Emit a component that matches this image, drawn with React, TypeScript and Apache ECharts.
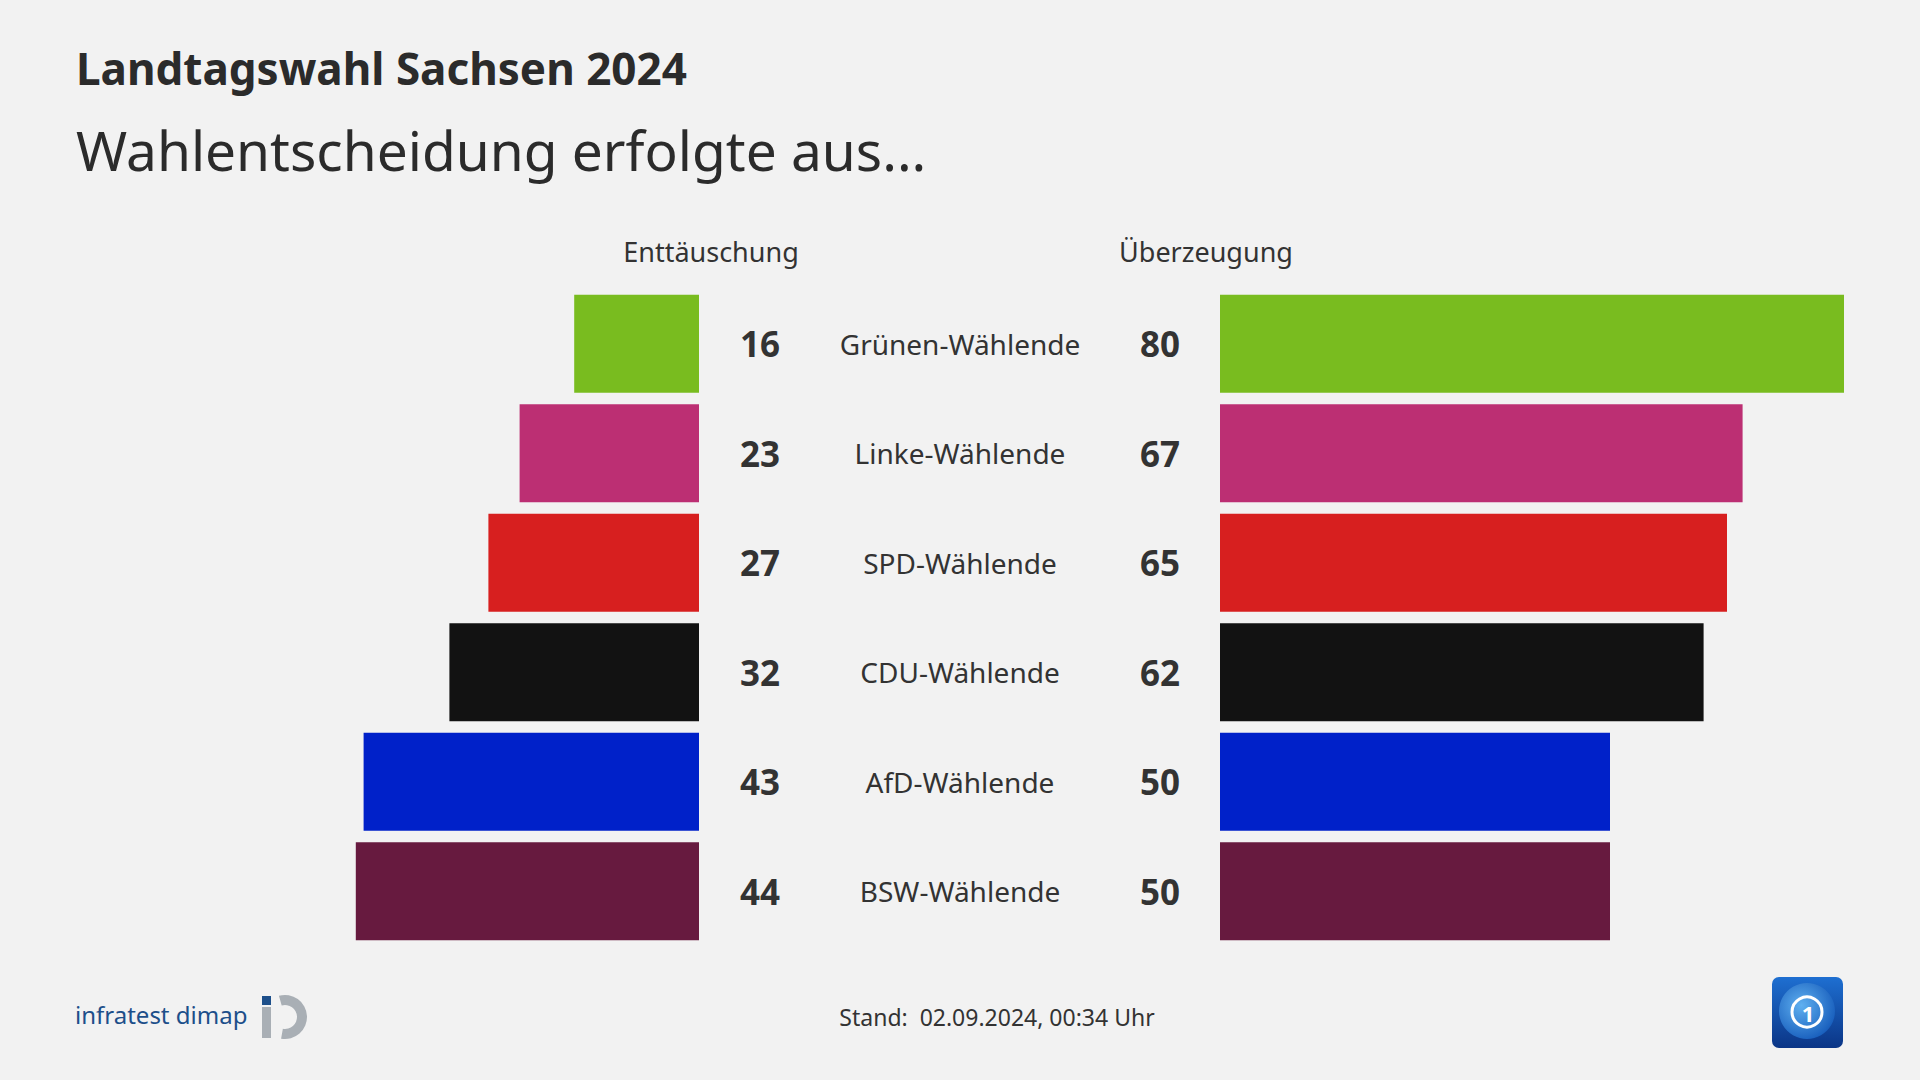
import React, { useEffect, useRef } from "react";
import * as echarts from "echarts";

const categories = ["Grünen-Wählende", "Linke-Wählende", "SPD-Wählende", "CDU-Wählende", "AfD-Wählende", "BSW-Wählende"];
const disappointment = [16, 23, 27, 32, 43, 44];
const conviction = [80, 67, 65, 62, 50, 50];
const barColors = ["#79bc1f", "#bc2f73", "#d71f1f", "#121212", "#0021c9", "#671a3f"];

const titleText = "Landtagswahl Sachsen 2024";
const subtitleText = "Wahlentscheidung erfolgte aus...";
const leftHeader = "Enttäuschung";
const rightHeader = "Überzeugung";
const standText = "Stand:  02.09.2024, 00:34 Uhr";

const FONT = "'Noto Sans', sans-serif";
const TXT = "#333333";

export default function App() {
  const ref = useRef<HTMLDivElement>(null);
  useEffect(() => {
    if (!ref.current) return;
    const chart = echarts.init(ref.current, null, { renderer: "svg" });
    const gridTop = 289;
    const gridHeight = 657;
    const option: any = {
      animation: false,
      backgroundColor: "#f2f2f2",
      textStyle: { fontFamily: FONT },
      grid: [
        { left: 309, width: 390, top: gridTop, height: gridHeight },
        { left: 1220, width: 663, top: gridTop, height: gridHeight },
      ],
      xAxis: [
        { type: "value", gridIndex: 0, min: 0, max: 50, inverse: true, show: false },
        { type: "value", gridIndex: 1, min: 0, max: 85, show: false },
      ],
      yAxis: [
        {
          type: "category", gridIndex: 0, data: categories, inverse: true, position: "right",
          axisLine: { show: false }, axisTick: { show: false }, splitLine: { show: false },
          axisLabel: {
            formatter: (_v: string, i: number) => String(disappointment[i]),
            margin: 61, align: "center", fontSize: 35, fontWeight: "bold", color: TXT, fontFamily: FONT,
          },
        },
        {
          type: "category", gridIndex: 0, data: categories, inverse: true, position: "right", offset: 261,
          axisLine: { show: false }, axisTick: { show: false }, splitLine: { show: false },
          axisLabel: { margin: 0, align: "center", fontSize: 28, color: TXT, fontFamily: FONT },
        },
        {
          type: "category", gridIndex: 1, data: categories, inverse: true, position: "left",
          axisLine: { show: false }, axisTick: { show: false }, splitLine: { show: false },
          axisLabel: {
            formatter: (_v: string, i: number) => String(conviction[i]),
            margin: 60, align: "center", fontSize: 35, fontWeight: "bold", color: TXT, fontFamily: FONT,
          },
        },
      ],
      series: [
        {
          type: "bar", xAxisIndex: 0, yAxisIndex: 0, barWidth: 98,
          data: disappointment.map((v, i) => ({ value: v, itemStyle: { color: barColors[i] } })),
        },
        {
          type: "bar", xAxisIndex: 1, yAxisIndex: 2, barWidth: 98,
          data: conviction.map((v, i) => ({ value: v, itemStyle: { color: barColors[i] } })),
        },
      ],
      graphic: [
        { type: "text", left: 76, top: 46, style: { text: titleText, fontSize: 44, fontWeight: "bold", fill: "#2b2b2b", fontFamily: FONT } },
        { type: "text", left: 76, top: 122, style: { text: subtitleText, fontSize: 55, fill: "#2b2b2b", fontFamily: FONT } },
        { type: "text", x: 711, y: 251, style: { text: leftHeader, fontSize: 27, fill: TXT, fontFamily: FONT, align: "center", verticalAlign: "middle" } },
        { type: "text", x: 1206, y: 251, style: { text: rightHeader, fontSize: 27, fill: TXT, fontFamily: FONT, align: "center", verticalAlign: "middle" } },
        { type: "text", x: 997, y: 1017, style: { text: standText, fontSize: 23, fill: TXT, fontFamily: FONT, align: "center", verticalAlign: "middle" } },
        // infratest dimap logo
        { type: "text", x: 75, y: 1014, style: { text: "infratest dimap", fontSize: 24, fill: "#1d4f8a", fontFamily: FONT, align: "left", verticalAlign: "middle" } },
        { type: "rect", shape: { x: 262, y: 996, width: 9, height: 9 }, style: { fill: "#1d4f8a" } },
        { type: "rect", shape: { x: 262, y: 1007, width: 9, height: 31 }, style: { fill: "#a9afb5" } },
        { type: "sector", shape: { cx: 285, cy: 1017, r0: 12, r: 22, startAngle: -1.85, endAngle: 1.75, clockwise: true }, style: { fill: "#a9afb5" } },
        // ARD logo
        {
          type: "rect", shape: { x: 1772, y: 977, width: 71, height: 71, r: 7 },
          style: {
            fill: new echarts.graphic.LinearGradient(0, 0, 0, 1, [
              { offset: 0, color: "#1e6fd1" },
              { offset: 1, color: "#0b3586" },
            ]),
          },
        },
        {
          type: "circle", shape: { cx: 1807, cy: 1011, r: 28 },
          style: {
            fill: new echarts.graphic.RadialGradient(0.4, 0.4, 0.7, [
              { offset: 0, color: "#5fb0f0" },
              { offset: 1, color: "#1257b8" },
            ]),
          },
        },
        { type: "circle", shape: { cx: 1807, cy: 1012, r: 15 }, style: { fill: "none", stroke: "#ffffff", lineWidth: 3 } },
        { type: "text", x: 1808, y: 1013, style: { text: "1", fontSize: 22, fontWeight: "bold", fill: "#ffffff", fontFamily: FONT, align: "center", verticalAlign: "middle" } },
      ],
    };
    chart.setOption(option);
    return () => chart.dispose();
  }, []);
  return <div ref={ref} style={{ position: "absolute", left: 0, top: 0, width: 1920, height: 1080 }} />;
}
